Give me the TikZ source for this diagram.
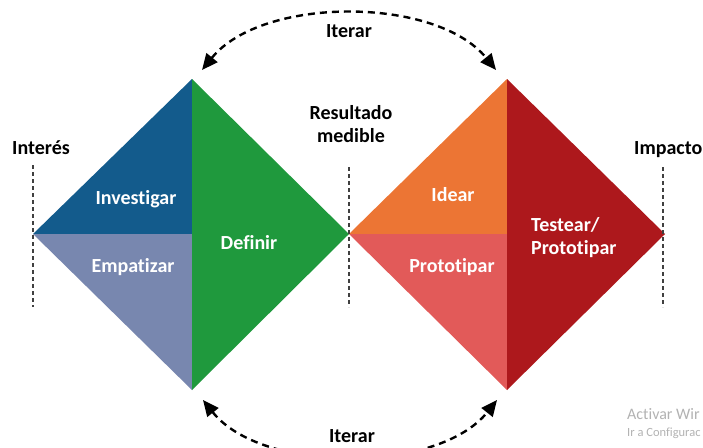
\documentclass[tikz,border=0pt]{standalone}
\usepackage{fontspec}
\setmainfont[Ligatures=NoCommon]{Carlito}
\usetikzlibrary{arrows.meta}
\definecolor{dblue}{HTML}{135B8C}
\definecolor{lblue}{HTML}{7887AF}
\definecolor{dgreen}{HTML}{1F993D}
\definecolor{orng}{HTML}{EC7534}
\definecolor{lred}{HTML}{E25A59}
\definecolor{dred}{HTML}{AD181C}
\tikzset{
  lab/.style={font=\bfseries\fontsize{20}{23}\selectfont, text=black, align=center, inner sep=0pt},
  inlab/.style={font=\bfseries\fontsize{20}{23}\selectfont, text=white, align=center, inner sep=0pt},
  guide/.style={draw=black!75, line width=1.3pt, dash pattern=on 4pt off 3pt},
  iter/.style={draw=black, line width=2.4pt, dash pattern=on 7pt off 5pt, {Triangle[length=16pt,width=14pt]}-{Triangle[length=16pt,width=14pt]}},
  wm/.style={font=\fontsize{16}{18}\selectfont, text=black!30, anchor=west, inner sep=0pt}
}
\begin{document}
\begin{tikzpicture}[x=1pt,y=-1pt]
\useasboundingbox (0,0) rectangle (703,447);
% vertices
\coordinate (L) at (33,234);
\coordinate (LT) at (192,79);
\coordinate (LB) at (192,390);
\coordinate (M) at (349,234);
\coordinate (MC) at (192,234);
\coordinate (RT) at (507,79);
\coordinate (RB) at (507,390);
\coordinate (R) at (665,234);
\coordinate (RC) at (507,234);
% left diamond
\fill[dblue] (L) -- (LT) -- (MC) -- cycle;
\fill[lblue] (L) -- (MC) -- (LB) -- cycle;
\fill[dgreen] (LT) -- (M) -- (LB) -- cycle;
% right diamond
\fill[orng] (M) -- (RT) -- (RC) -- cycle;
\fill[lred] (M) -- (RC) -- (RB) -- cycle;
\fill[dred] (RT) -- (R) -- (RB) -- cycle;
% guides
\coordinate (g1a) at (33,165); \coordinate (g1b) at (33,307);
\coordinate (g2a) at (349,167); \coordinate (g2b) at (349,307);
\coordinate (g3a) at (663,167); \coordinate (g3b) at (663,307);
\draw[guide] (g1a) -- (g1b);
\draw[guide] (g2a) -- (g2b);
\draw[guide] (g3a) -- (g3b);
% labels
\node[lab] (interes) at (41,148) {Interés};
\node[lab] (result) at (351,124) {Resultado\\medible};
\node[lab, anchor=west] (impacto) at (634,150) {Impacto};
\node[inlab] (invest) at (136,199) {Investigar};
\node[inlab] (empat) at (133,267) {Empatizar};
\node[inlab] (defin) at (249,243) {Definir};
\node[inlab] (idear) at (453,195) {Idear};
\node[inlab] (proto) at (452,267) {Prototipar};
\node[inlab, align=left, anchor=west] (test) at (531,238) {Testear/\\Prototipar};
% iterate arcs
\coordinate (a1) at (202,70); \coordinate (a2) at (496,70);
\coordinate (b1) at (203,400); \coordinate (b2) at (497,400);
\draw[iter] (a1) .. controls (262,-4) and (436,-4) .. (a2);
\draw[iter] (b1) .. controls (262,474) and (438,474) .. (b2);
\node[lab] (it1) at (349,31) {Iterar};
\node[lab] (it2) at (352,436) {Iterar};
% watermark
\node[wm] (w1) at (627,414) {Activar Wir};
\node[wm, font=\fontsize{12.5}{14}\selectfont] (w2) at (627,433) {Ir a Configurac};
\end{tikzpicture}
\end{document}
